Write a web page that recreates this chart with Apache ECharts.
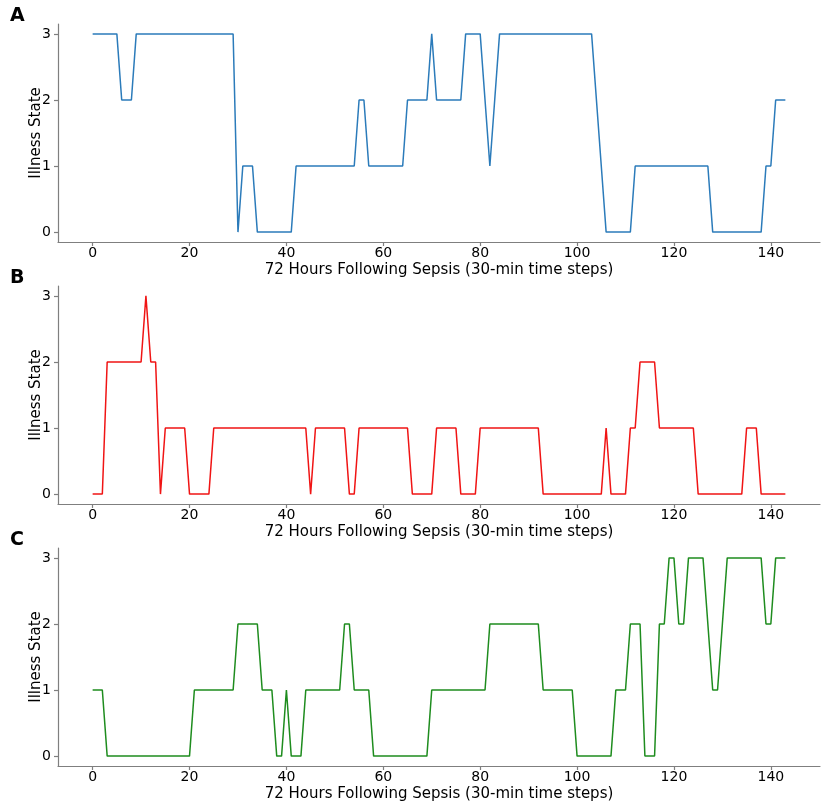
<!doctype html>
<html lang="en">

<head>
    <meta charset="UTF-8">
    <title>Illness State</title>
    <style>
        html, body { margin: 0; padding: 0; background: #fff; }
    </style>
</head>

<body>
    <div id="main" style="width: 829px;height:806px;"></div>
    <script src="https://cdn.jsdelivr.net/npm/echarts@6/dist/echarts.min.js"></script>
    <script>
        // 每个面板的病情状态，每 30 分钟一个点（共 144 个）
        var stateA = [
            3, 3, 3, 3, 3, 3, 2, 2, 2, 3,
            3, 3, 3, 3, 3, 3, 3, 3, 3, 3,
            3, 3, 3, 3, 3, 3, 3, 3, 3, 3,
            0, 1, 1, 1, 0, 0, 0, 0, 0, 0,
            0, 0, 1, 1, 1, 1, 1, 1, 1, 1,
            1, 1, 1, 1, 1, 2, 2, 1, 1, 1,
            1, 1, 1, 1, 1, 2, 2, 2, 2, 2,
            3, 2, 2, 2, 2, 2, 2, 3, 3, 3,
            3, 2, 1, 2, 3, 3, 3, 3, 3, 3,
            3, 3, 3, 3, 3, 3, 3, 3, 3, 3,
            3, 3, 3, 3, 2, 1, 0, 0, 0, 0,
            0, 0, 1, 1, 1, 1, 1, 1, 1, 1,
            1, 1, 1, 1, 1, 1, 1, 1, 0, 0,
            0, 0, 0, 0, 0, 0, 0, 0, 0, 1,
            1, 2, 2, 2
        ];
        var stateB = [
            0, 0, 0, 2, 2, 2, 2, 2, 2, 2,
            2, 3, 2, 2, 0, 1, 1, 1, 1, 1,
            0, 0, 0, 0, 0, 1, 1, 1, 1, 1,
            1, 1, 1, 1, 1, 1, 1, 1, 1, 1,
            1, 1, 1, 1, 1, 0, 1, 1, 1, 1,
            1, 1, 1, 0, 0, 1, 1, 1, 1, 1,
            1, 1, 1, 1, 1, 1, 0, 0, 0, 0,
            0, 1, 1, 1, 1, 1, 0, 0, 0, 0,
            1, 1, 1, 1, 1, 1, 1, 1, 1, 1,
            1, 1, 1, 0, 0, 0, 0, 0, 0, 0,
            0, 0, 0, 0, 0, 0, 1, 0, 0, 0,
            0, 1, 1, 2, 2, 2, 2, 1, 1, 1,
            1, 1, 1, 1, 1, 0, 0, 0, 0, 0,
            0, 0, 0, 0, 0, 1, 1, 1, 0, 0,
            0, 0, 0, 0
        ];
        var stateC = [
            1, 1, 1, 0, 0, 0, 0, 0, 0, 0,
            0, 0, 0, 0, 0, 0, 0, 0, 0, 0,
            0, 1, 1, 1, 1, 1, 1, 1, 1, 1,
            2, 2, 2, 2, 2, 1, 1, 1, 0, 0,
            1, 0, 0, 0, 1, 1, 1, 1, 1, 1,
            1, 1, 2, 2, 1, 1, 1, 1, 0, 0,
            0, 0, 0, 0, 0, 0, 0, 0, 0, 0,
            1, 1, 1, 1, 1, 1, 1, 1, 1, 1,
            1, 1, 2, 2, 2, 2, 2, 2, 2, 2,
            2, 2, 2, 1, 1, 1, 1, 1, 1, 1,
            0, 0, 0, 0, 0, 0, 0, 0, 1, 1,
            1, 2, 2, 2, 0, 0, 0, 2, 2, 3,
            3, 2, 2, 3, 3, 3, 3, 2, 1, 1,
            2, 3, 3, 3, 3, 3, 3, 3, 3, 2,
            2, 3, 3, 3
        ];
        var xTicks = [0, 20, 40, 60, 80, 100, 120, 140];
        var yTicks = [0, 1, 2, 3];
        var panelLabels = ['A', 'B', 'C'];
        var lineColors = ['#2b7bba', '#f01414', '#1e8c1e'];

        var myChart = echarts.init(document.getElementById('main'));

        var font = 'DejaVu Sans';
        var tops = [24, 286, 548];
        var states = [stateA, stateB, stateC];

        function toPoints(arr) {
            var pts = [];
            for (var i = 0; i < arr.length; i++) {
                pts.push([i, arr[i]]);
            }
            return pts;
        }

        var axisLineStyle = { color: '#7f7f7f', width: 1.2 };

        option = {
            animation: false,
            backgroundColor: '#fff',
            title: [],
            grid: [],
            xAxis: [],
            yAxis: [],
            series: []
        };

        for (var k = 0; k < 3; k++) {
            option.title.push({
                text: panelLabels[k],
                left: 5,
                top: tops[k] - 22,
                textStyle: { fontFamily: font, fontWeight: 'bold', fontSize: 19, color: '#000' }
            });
            option.grid.push({
                left: 58,
                width: 762,
                top: tops[k],
                height: 218
            });
            option.xAxis.push({
                type: 'value',
                gridIndex: k,
                min: -7.15,
                max: 150.15,
                name: '72 Hours Following Sepsis (30-min time steps)',
                nameLocation: 'middle',
                nameGap: 21,
                nameTextStyle: { fontFamily: font, fontSize: 15, color: '#000' },
                splitLine: { show: false },
                axisLine: { onZero: false, lineStyle: axisLineStyle },
                axisTick: { length: 4, lineStyle: axisLineStyle, customValues: xTicks },
                axisLabel: { customValues: xTicks, margin: 4, fontFamily: font, fontSize: 14, color: '#000' }
            });
            option.yAxis.push({
                type: 'value',
                gridIndex: k,
                min: -0.15,
                max: 3.15,
                name: 'Illness State',
                nameLocation: 'middle',
                nameRotate: 90,
                nameGap: 14,
                nameMoveOverlap: false,
                nameTextStyle: { fontFamily: font, fontSize: 15, color: '#000' },
                splitLine: { show: false },
                axisLine: { show: true, onZero: false, lineStyle: axisLineStyle },
                axisTick: { show: true, length: 4, lineStyle: axisLineStyle, customValues: yTicks },
                axisLabel: { customValues: yTicks, margin: 7, fontFamily: font, fontSize: 14, color: '#000' }
            });
            option.series.push({
                type: 'line',
                xAxisIndex: k,
                yAxisIndex: k,
                data: toPoints(states[k]),
                showSymbol: false,
                lineStyle: { color: lineColors[k], width: 1.5 }
            });
        }

        myChart.setOption(option);
    </script>
</body>

</html>
